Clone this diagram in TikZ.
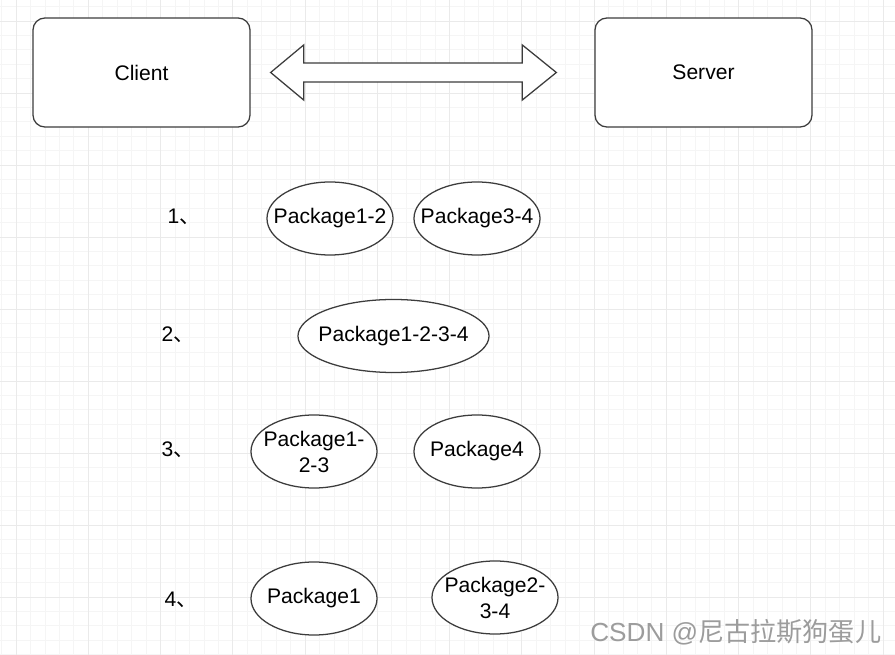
\documentclass[tikz,border=0pt]{standalone}
\usepackage{fontspec}
\setmainfont{Liberation Sans}
\newfontfamily\cjk{Noto Sans CJK SC}
\usetikzlibrary{positioning,calc,shapes.geometric}
\definecolor{gridMinor}{HTML}{F5F5F5}
\definecolor{gridMajor}{HTML}{EAEAEA}
\definecolor{edgeGrey}{HTML}{3C3C3C}
\definecolor{markGrey}{HTML}{9C9C9C}
\tikzset{
  minor line/.style={draw=gridMinor,line width=0.5pt},
  major line/.style={draw=gridMajor,line width=0.6pt},
  end box/.style={rectangle,rounded corners=0.3cm,draw=edgeGrey,fill=white,
    line width=0.9pt,minimum width=5.425cm,minimum height=2.725cm,
    font=\fontsize{15}{17}\selectfont},
  link arrow/.style={draw=edgeGrey,fill=white,line width=0.9pt,line join=miter},
  pkg node/.style={ellipse,draw=edgeGrey,fill=white,line width=0.9pt,inner sep=0pt,
    minimum width=3.15cm,minimum height=1.825cm},
  pkg wide/.style={pkg node,minimum width=4.775cm},
  pkg text/.style={font=\fontsize{15}{18.5}\selectfont,align=center},
  step label/.style={font=\fontsize{15}{17}\selectfont}
}

\begin{document}
\begin{tikzpicture}[x=0.025cm,y=-0.025cm]
    \useasboundingbox (0,0) rectangle (895,655);
    \fill[white] (0,0) rectangle (895,655);
    % background grid
    \foreach \i in {-1,...,61}
      \draw[minor line] ({16+14.45*\i},0) -- ({16+14.45*\i},655);
    \foreach \i in {-1,...,45}
      \draw[minor line] (0,{21+14.4*\i}) -- (895,{21+14.4*\i});
    \foreach \i in {0,...,12}
      \draw[major line] ({16+72.25*\i},0) -- ({16+72.25*\i},655);
    \foreach \i in {0,...,8}
      \draw[major line] (0,{21+72*\i}) -- (895,{21+72*\i});

    \node[end box] (client) at (141.5,72.5) {Client};
    \node[end box] (server) at (703.5,72.5) {Server};

    % two-way link between the ends
    \coordinate (linkL) at ($(client.east)+(20,0)$);
    \coordinate (linkR) at ($(server.west)+(-38,0)$);
    \draw[link arrow] (linkL) -- ($(linkL)+(33,-27.5)$) -- ($(linkL)+(33,-9.5)$)
      -- ($(linkR)+(-34,-9.5)$) -- ($(linkR)+(-34,-27.5)$) -- (linkR)
      -- ($(linkR)+(-34,27.5)$) -- ($(linkR)+(-34,9.5)$)
      -- ($(linkL)+(33,9.5)$) -- ($(linkL)+(33,27.5)$) -- cycle;

    % step 1
    \node[step label] (s1) at (184,217) {1{\cjk 、}};
    \node[pkg node,label={[pkg text]center:Package1-2}] (p12) at (330,218.5) {};
    \node[pkg node,label={[pkg text]center:Package3-4}] (p34) at (477,218.5) {};

    % step 2
    \node[step label] (s2) at (178,335) {2{\cjk 、}};
    \node[pkg wide,label={[pkg text]center:Package1-2-3-4}] (p1234) at (393.5,336) {};

    % step 3
    \node[step label] (s3) at (178,450) {3{\cjk 、}};
    \node[pkg node,label={[pkg text]center:Package1-\\2-3}] (p123) at (314,451.5) {};
    \node[pkg node,label={[pkg text]center:Package4}] (p4) at (477,451.5) {};

    % step 4
    \node[step label] (s4) at (181,600) {4{\cjk 、}};
    \node[pkg node,label={[pkg text]center:Package1}] (p1) at (314,598.5) {};
    \node[pkg node,label={[pkg text]center:Package2-\\3-4}] (p234) at (495,597.5) {};

    \node[anchor=west,text=markGrey,font=\fontsize{18.6}{20}\selectfont,inner sep=0pt]
      (mark) at (590,632) {CSDN @{\cjk 尼古拉斯狗蛋儿}};
  \end{tikzpicture}
\end{document}
